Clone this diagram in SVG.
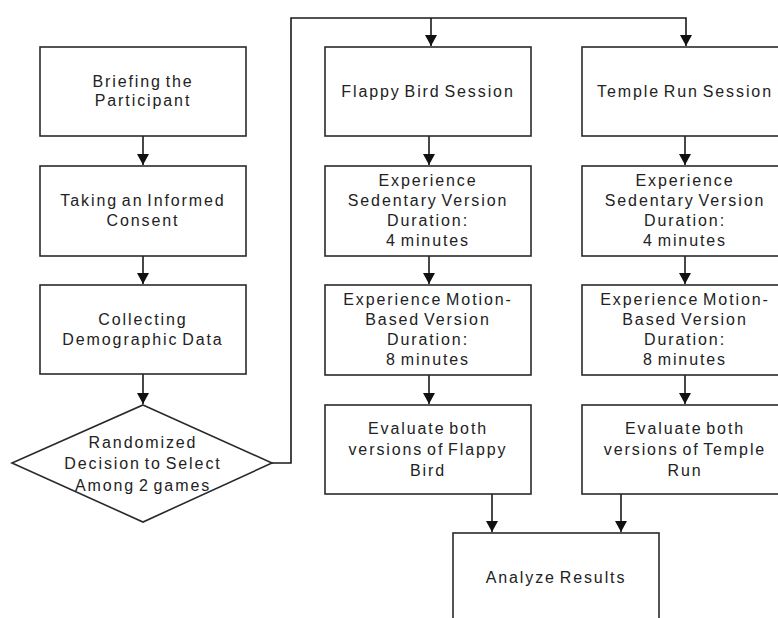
<svg xmlns="http://www.w3.org/2000/svg" width="778" height="618" viewBox="0 0 778 618">
<style>
.box{fill:#fff;stroke:#2a2a2a;stroke-width:1.6}
.lbl{font-family:"Liberation Sans",Arial,sans-serif;font-size:16px;fill:#222;text-anchor:middle;letter-spacing:1.9px;word-spacing:-2.5px}
.con{fill:none;stroke:#1a1a1a;stroke-width:1.6}
</style>
<defs>
<marker id="ah" markerUnits="userSpaceOnUse" markerWidth="12" markerHeight="12" viewBox="0 0 12 12" refX="11" refY="6" orient="auto">
<path d="M0,0 L11,6 L0,12 z" fill="#111"/>
</marker>
</defs>
<rect width="778" height="618" fill="#fff"/>
<g id="connectors">
<path class="con" d="M143,136 V165" marker-end="url(#ah)"/>
<path class="con" d="M143,256 V284" marker-end="url(#ah)"/>
<path class="con" d="M143,374 V404" marker-end="url(#ah)"/>
<path class="con" d="M272,463 H291 V18 H686 V46" marker-end="url(#ah)"/>
<path class="con" d="M431,18 V46" marker-end="url(#ah)"/>
<path class="con" d="M429,136 V165" marker-end="url(#ah)"/>
<path class="con" d="M429,256 V284" marker-end="url(#ah)"/>
<path class="con" d="M429,375 V404" marker-end="url(#ah)"/>
<path class="con" d="M685,136 V165" marker-end="url(#ah)"/>
<path class="con" d="M685,256 V284" marker-end="url(#ah)"/>
<path class="con" d="M685,375 V404" marker-end="url(#ah)"/>
<path class="con" d="M492,494 V532" marker-end="url(#ah)"/>
<path class="con" d="M621,494 V532" marker-end="url(#ah)"/>
</g>
<g id="briefing">
<rect class="box" x="40" y="47" width="206" height="89"/>
<text class="lbl" x="143" y="87">Briefing the</text>
<text class="lbl" x="143" y="106">Participant</text>
</g>
<g id="consent">
<rect class="box" x="40" y="166" width="206" height="90"/>
<text class="lbl" x="143" y="206">Taking an Informed</text>
<text class="lbl" x="143" y="226">Consent</text>
</g>
<g id="demographic">
<rect class="box" x="40" y="285" width="206" height="89"/>
<text class="lbl" x="143" y="325">Collecting</text>
<text class="lbl" x="143" y="345">Demographic Data</text>
</g>
<g id="decision">
<polygon class="box" points="143,405 272,463 143,522 12,463"/>
<text class="lbl" x="143" y="448">Randomized</text>
<text class="lbl" x="143" y="469">Decision to Select</text>
<text class="lbl" x="143" y="491">Among 2 games</text>
</g>
<g id="flappy-session">
<rect class="box" x="325" y="47" width="206" height="89"/>
<text class="lbl" x="428" y="97">Flappy Bird Session</text>
</g>
<g id="flappy-sedentary">
<rect class="box" x="325" y="166" width="206" height="90"/>
<text class="lbl" x="428" y="186">Experience</text>
<text class="lbl" x="428" y="206">Sedentary Version</text>
<text class="lbl" x="428" y="226">Duration:</text>
<text class="lbl" x="428" y="246">4 minutes</text>
</g>
<g id="flappy-motion">
<rect class="box" x="325" y="285" width="206" height="90"/>
<text class="lbl" x="428" y="305">Experience Motion-</text>
<text class="lbl" x="428" y="325">Based Version</text>
<text class="lbl" x="428" y="345">Duration:</text>
<text class="lbl" x="428" y="365">8 minutes</text>
</g>
<g id="flappy-evaluate">
<rect class="box" x="325" y="405" width="206" height="89"/>
<text class="lbl" x="428" y="434">Evaluate both</text>
<text class="lbl" x="428" y="455">versions of Flappy</text>
<text class="lbl" x="428" y="476">Bird</text>
</g>
<g id="temple-session">
<rect class="box" x="582" y="47" width="206" height="89"/>
<text class="lbl" x="685" y="97">Temple Run Session</text>
</g>
<g id="temple-sedentary">
<rect class="box" x="582" y="166" width="206" height="90"/>
<text class="lbl" x="685" y="186">Experience</text>
<text class="lbl" x="685" y="206">Sedentary Version</text>
<text class="lbl" x="685" y="226">Duration:</text>
<text class="lbl" x="685" y="246">4 minutes</text>
</g>
<g id="temple-motion">
<rect class="box" x="582" y="285" width="206" height="90"/>
<text class="lbl" x="685" y="305">Experience Motion-</text>
<text class="lbl" x="685" y="325">Based Version</text>
<text class="lbl" x="685" y="345">Duration:</text>
<text class="lbl" x="685" y="365">8 minutes</text>
</g>
<g id="temple-evaluate">
<rect class="box" x="582" y="405" width="206" height="89"/>
<text class="lbl" x="685" y="434">Evaluate both</text>
<text class="lbl" x="685" y="455">versions of Temple</text>
<text class="lbl" x="685" y="476">Run</text>
</g>
<g id="analyze">
<rect class="box" x="453" y="533" width="206" height="100"/>
<text class="lbl" x="556" y="583">Analyze Results</text>
</g>
</svg>
